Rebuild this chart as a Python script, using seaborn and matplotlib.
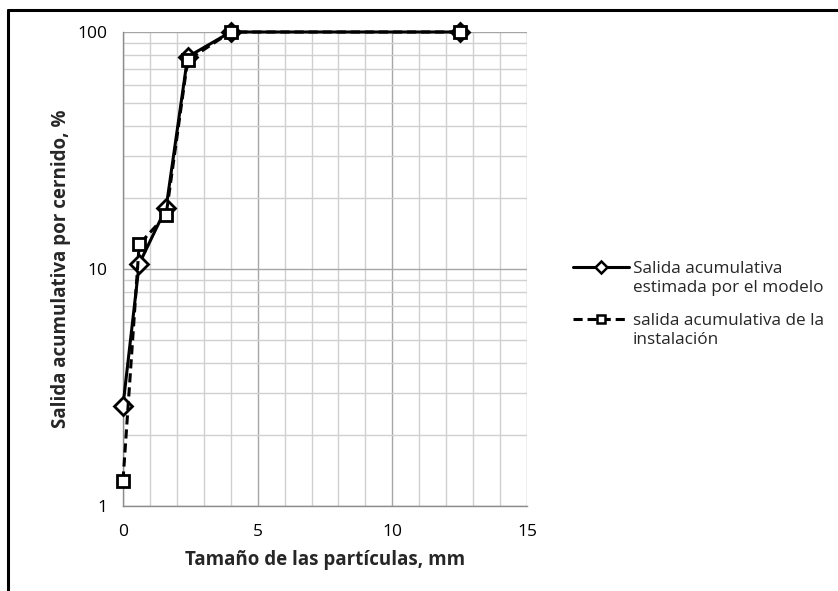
import matplotlib
matplotlib.use("Agg")
import matplotlib.pyplot as plt
import seaborn as sns
import pandas as pd
import numpy as np
from matplotlib.lines import Line2D
from matplotlib.ticker import FixedLocator, NullFormatter, FixedFormatter

# Data
size_mm = [0.0, 0.6, 1.6, 2.4, 4.0, 12.5]
modelo = [2.65, 10.5, 18.1, 78.5, 100.0, 100.0]
instalacion = [1.28, 12.7, 16.9, 76.0, 100.0, 100.0]
label_modelo = ["Salida acumulativa", "estimada por el modelo"]
label_inst = ["salida acumulativa de la", "instalación"]
x_ticks = [0, 5, 10, 15]
y_ticks = [1, 10, 100]

sns.set_theme(style="white")
plt.rcParams['font.family'] = ['Open Sans', 'DejaVu Sans']

W, H = 838, 591
fig = plt.figure(figsize=(W / 100, H / 100), dpi=100)
ax = fig.add_axes([123/W, 1-506/H, (527-123)/W, (506-32)/H])

df_m = pd.DataFrame({"x": size_mm, "y": modelo})
df_i = pd.DataFrame({"x": size_mm, "y": instalacion})

sns.lineplot(data=df_m, x="x", y="y", ax=ax, color="black", linewidth=2.2,
             marker="D", markersize=9, markerfacecolor="white",
             markeredgecolor="black", markeredgewidth=2.0, zorder=4,
             clip_on=False)
sns.lineplot(data=df_i, x="x", y="y", ax=ax, color="black", linewidth=2.2,
             linestyle=(0, (3, 1.6)), marker="s", markersize=8,
             markerfacecolor="white", markeredgecolor="black",
             markeredgewidth=2.0, zorder=5, clip_on=False)

ax.set_yscale("log")
ax.set_xlim(0, 15)
ax.set_ylim(1, 100)

# grids
ax.xaxis.set_major_locator(FixedLocator(x_ticks))
ax.xaxis.set_minor_locator(FixedLocator([v for v in range(0, 16) if v % 5 != 0]))
ax.yaxis.set_major_locator(FixedLocator(y_ticks))
ax.yaxis.set_major_formatter(FixedFormatter([str(v) for v in y_ticks]))
ax.yaxis.set_minor_locator(FixedLocator([m * d for d in (1, 10) for m in range(2, 10)]))
ax.yaxis.set_minor_formatter(NullFormatter())
ax.grid(True, which="major", color="#a6a6a6", linewidth=1.0, zorder=0)
ax.grid(True, which="minor", color="#d0d0d0", linewidth=1.0, zorder=0)
ax.set_axisbelow(True)

for s in ["top", "right"]:
    ax.spines[s].set_visible(False)
for s in ["left", "bottom"]:
    ax.spines[s].set_color("#8c8c8c")
    ax.spines[s].set_linewidth(1.0)

ax.tick_params(axis="both", which="major", direction="out", length=5, width=1,
               color="#8c8c8c", labelsize=12.5, labelcolor="black", pad=6)
ax.tick_params(axis="x", which="major", direction="inout", length=8, pad=9)
ax.tick_params(axis="both", which="minor", length=0)

ax.set_xlabel("Tamaño de las partículas, mm", fontsize=13.5, fontweight="bold",
              labelpad=7)
ax.set_ylabel("Salida acumulativa por cernido, %", fontsize=13.5,
              fontweight="bold", labelpad=5)

# legend (two entries, each with two text lines; handle on the first line)
blank = Line2D([], [], linestyle="none", marker=None)
h_m = Line2D([], [], color="black", linewidth=2.2, marker="D", markersize=6,
             markerfacecolor="white", markeredgecolor="black",
             markeredgewidth=1.8)
h_i = Line2D([], [], color="black", linewidth=2.2, linestyle=(0, (3, 1.6)),
             marker="s", markersize=6, markerfacecolor="white",
             markeredgecolor="black", markeredgewidth=1.8)
leg_kw = dict(loc="center left", frameon=False, fontsize=12.3,
              handlelength=3.25, handletextpad=0.25, labelspacing=0.22,
              borderpad=0, borderaxespad=0, bbox_transform=fig.transFigure)
leg1 = ax.legend([h_m, blank], label_modelo,
                 bbox_to_anchor=(573/W, 1-278.5/H), **leg_kw)
ax.add_artist(leg1)
leg2 = ax.legend([h_i, blank], label_inst,
                 bbox_to_anchor=(573/W, 1-330.5/H), **leg_kw)

# outer frame
fig.add_artist(Line2D([8/W, 8/W], [0, 1-10/H], color="black",
                      linewidth=2.2, transform=fig.transFigure))
fig.add_artist(Line2D([8/W, 1], [1-10/H, 1-10/H], color="black",
                      linewidth=2.2, transform=fig.transFigure))

fig.savefig("out.png", dpi=100)
